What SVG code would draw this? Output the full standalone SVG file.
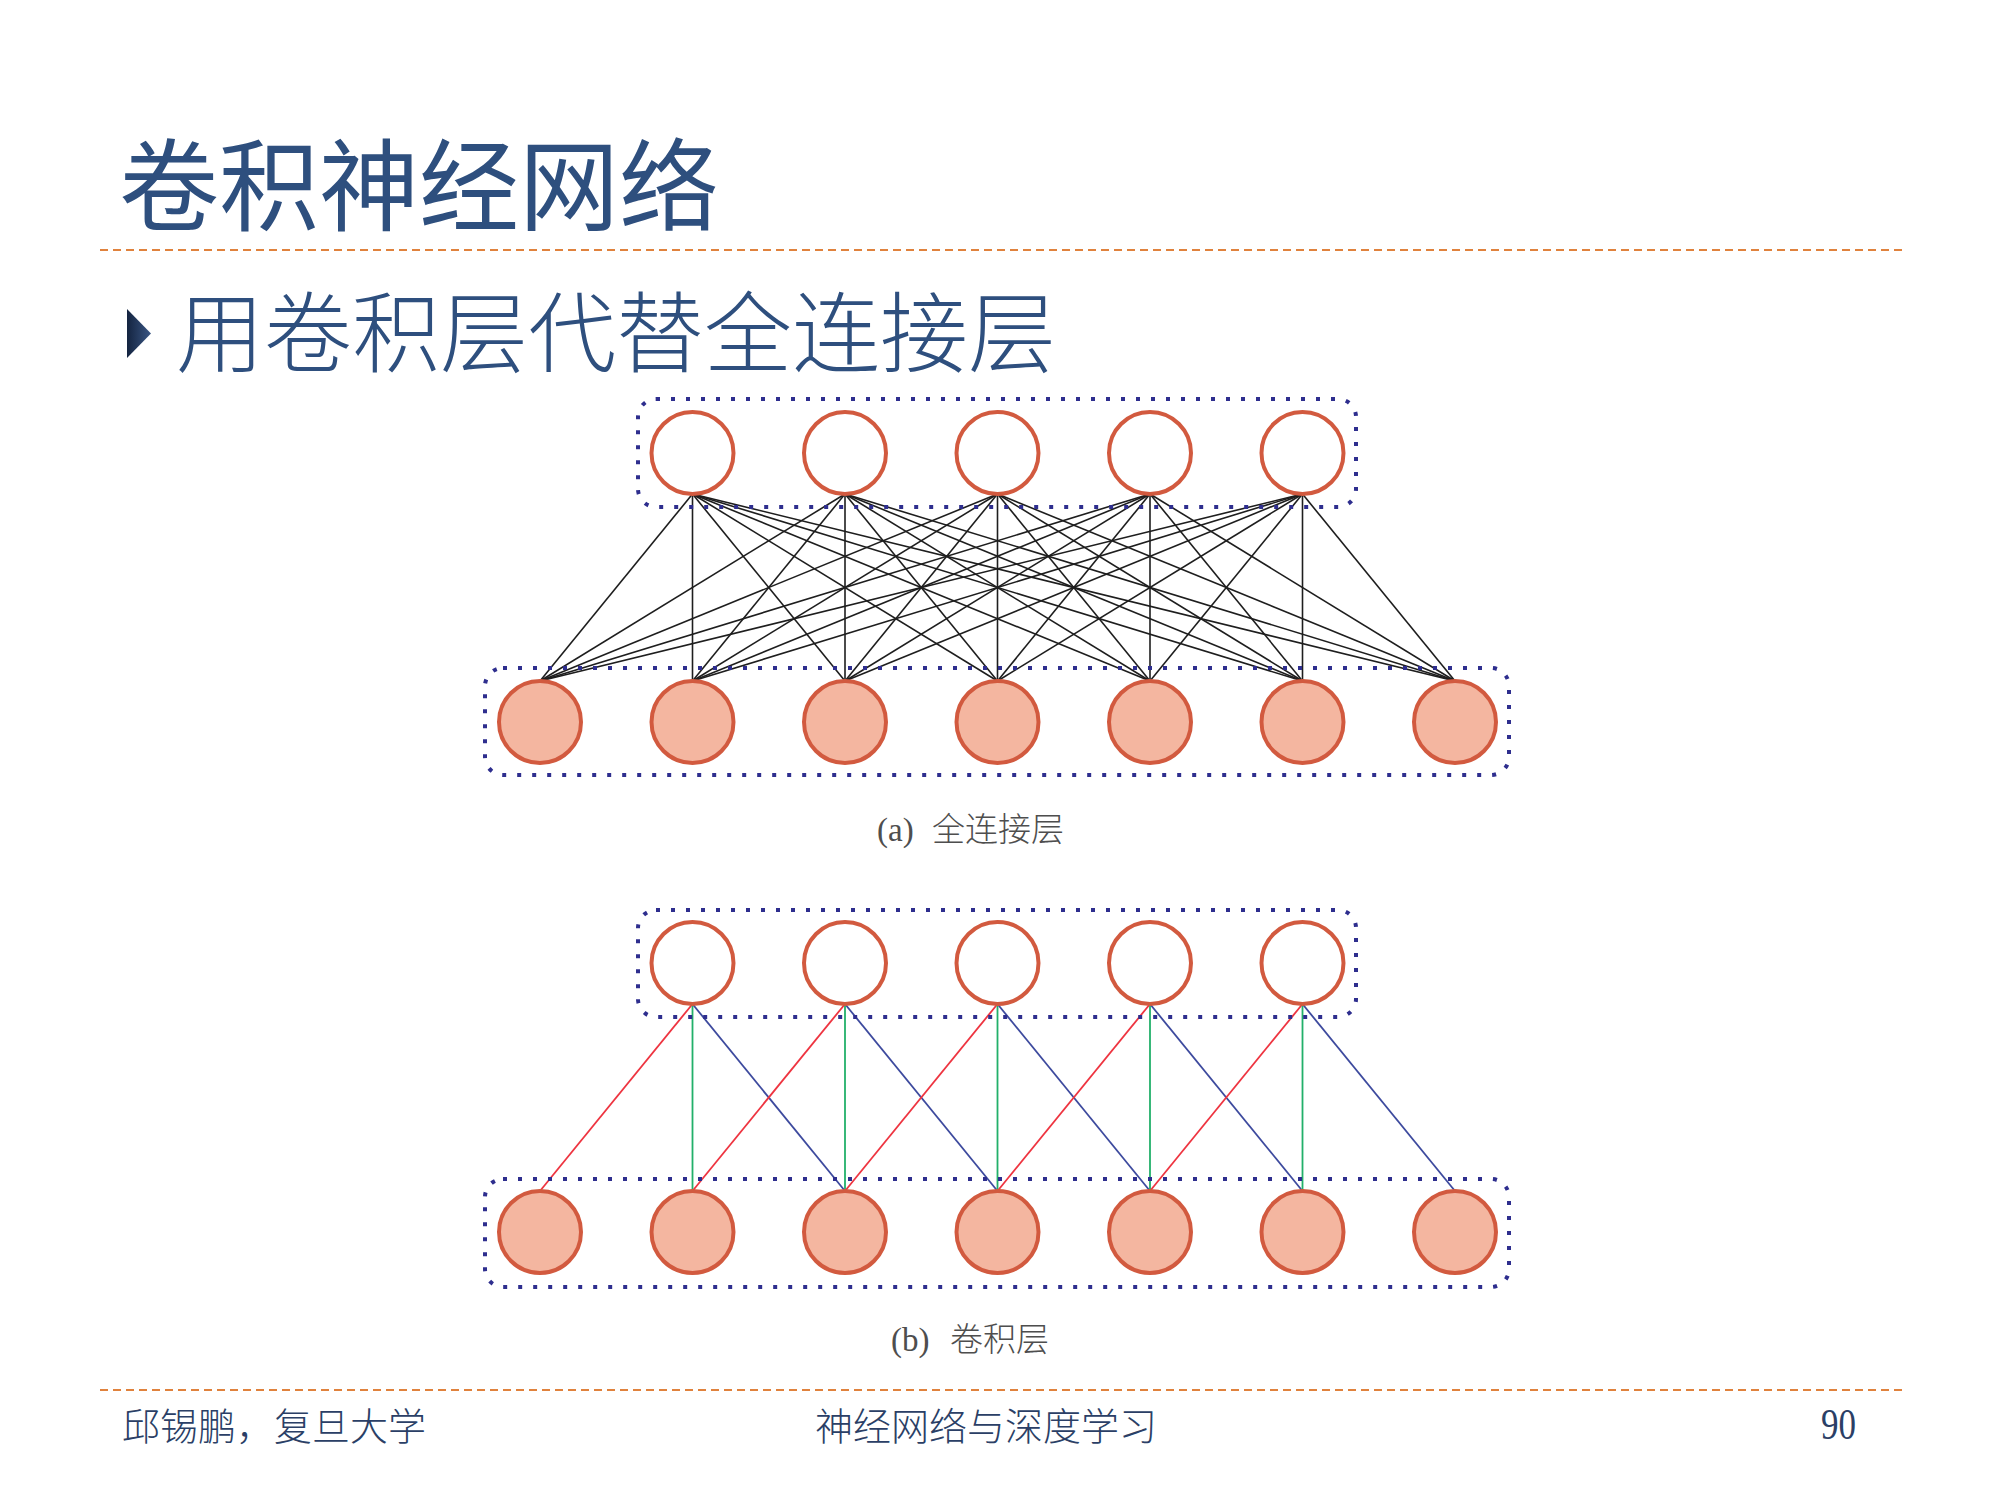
<svg xmlns="http://www.w3.org/2000/svg" width="2000" height="1500" viewBox="0 0 2000 1500">
<defs>
<linearGradient id="tri" x1="0" y1="0" x2="1" y2="0">
<stop offset="0" stop-color="#142440"/>
<stop offset="1" stop-color="#3A5684"/>
</linearGradient>
</defs>
<style>
.sep{stroke:#E0823D;stroke-width:2;stroke-dasharray:8 5;fill:none}
.box{fill:none;stroke:#2E2E8E;stroke-width:4;stroke-dasharray:4 11}
.in{fill:#FFFFFF;stroke:#D25A3F;stroke-width:4}
.out{fill:#F4B6A0;stroke:#D25A3F;stroke-width:4}
.fc line{stroke:#1E1E1E;stroke-width:1.6}
.r{stroke:#EE3440;stroke-width:1.8}
.g{stroke:#22B06A;stroke-width:1.8}
.b{stroke:#3D4A9E;stroke-width:1.8}
.cjk{font-family:"Noto Sans CJK SC",sans-serif}
.cap{font-family:"Liberation Serif","Noto Sans CJK SC",serif;fill:#4E4E4E;font-size:33px}
.capc{font-family:"Noto Sans CJK SC",sans-serif;font-weight:300}
.foot{font-family:"Noto Sans CJK SC",sans-serif;fill:#2B3F66;font-size:38px;font-weight:300}
</style>
<rect width="2000" height="1500" fill="#FFFFFF"/>
<g id="title">
<text x="119" y="223" class="cjk" font-size="100" fill="#2E4F7E">卷积神经网络</text>
</g>
<line class="sep" x1="100" y1="250" x2="1902" y2="250"/>
<g id="bullet">
<polygon points="127,309 151,333.5 127,358" fill="url(#tri)"/>
<text x="176" y="365" class="cjk" font-size="88" font-weight="300" fill="#2E4F7E">用卷积层代替全连接层</text>
</g>
<!-- (a) fully connected -->
<g id="fc-edges" class="fc">
<line x1="692.5" y1="494" x2="540" y2="681"/><line x1="692.5" y1="494" x2="692.5" y2="681"/><line x1="692.5" y1="494" x2="845" y2="681"/><line x1="692.5" y1="494" x2="997.5" y2="681"/><line x1="692.5" y1="494" x2="1150" y2="681"/><line x1="692.5" y1="494" x2="1302.5" y2="681"/><line x1="692.5" y1="494" x2="1455" y2="681"/>
<line x1="845" y1="494" x2="540" y2="681"/><line x1="845" y1="494" x2="692.5" y2="681"/><line x1="845" y1="494" x2="845" y2="681"/><line x1="845" y1="494" x2="997.5" y2="681"/><line x1="845" y1="494" x2="1150" y2="681"/><line x1="845" y1="494" x2="1302.5" y2="681"/><line x1="845" y1="494" x2="1455" y2="681"/>
<line x1="997.5" y1="494" x2="540" y2="681"/><line x1="997.5" y1="494" x2="692.5" y2="681"/><line x1="997.5" y1="494" x2="845" y2="681"/><line x1="997.5" y1="494" x2="997.5" y2="681"/><line x1="997.5" y1="494" x2="1150" y2="681"/><line x1="997.5" y1="494" x2="1302.5" y2="681"/><line x1="997.5" y1="494" x2="1455" y2="681"/>
<line x1="1150" y1="494" x2="540" y2="681"/><line x1="1150" y1="494" x2="692.5" y2="681"/><line x1="1150" y1="494" x2="845" y2="681"/><line x1="1150" y1="494" x2="997.5" y2="681"/><line x1="1150" y1="494" x2="1150" y2="681"/><line x1="1150" y1="494" x2="1302.5" y2="681"/><line x1="1150" y1="494" x2="1455" y2="681"/>
<line x1="1302.5" y1="494" x2="540" y2="681"/><line x1="1302.5" y1="494" x2="692.5" y2="681"/><line x1="1302.5" y1="494" x2="845" y2="681"/><line x1="1302.5" y1="494" x2="997.5" y2="681"/><line x1="1302.5" y1="494" x2="1150" y2="681"/><line x1="1302.5" y1="494" x2="1302.5" y2="681"/><line x1="1302.5" y1="494" x2="1455" y2="681"/>
</g>
<g id="fc-top-layer">
<rect class="box" x="638" y="399" width="718" height="108" rx="18"/>
<circle class="in" cx="692.5" cy="453" r="41"/>
<circle class="in" cx="845" cy="453" r="41"/>
<circle class="in" cx="997.5" cy="453" r="41"/>
<circle class="in" cx="1150" cy="453" r="41"/>
<circle class="in" cx="1302.5" cy="453" r="41"/>
</g>
<g id="fc-bottom-layer">
<rect class="box" x="485" y="668" width="1024" height="107" rx="18"/>
<circle class="out" cx="540" cy="722" r="41"/>
<circle class="out" cx="692.5" cy="722" r="41"/>
<circle class="out" cx="845" cy="722" r="41"/>
<circle class="out" cx="997.5" cy="722" r="41"/>
<circle class="out" cx="1150" cy="722" r="41"/>
<circle class="out" cx="1302.5" cy="722" r="41"/>
<circle class="out" cx="1455" cy="722" r="41"/>
</g>
<g id="caption-a">
<text x="877" y="841" class="cap">(a) <tspan x="932" class="capc">全连接层</tspan></text>
</g>
<!-- (b) convolution -->
<g id="conv-edges">
<line class="r" x1="692.5" y1="1004" x2="540" y2="1191"/><line class="g" x1="692.5" y1="1004" x2="692.5" y2="1191"/><line class="b" x1="692.5" y1="1004" x2="845" y2="1191"/>
<line class="r" x1="845" y1="1004" x2="692.5" y2="1191"/><line class="g" x1="845" y1="1004" x2="845" y2="1191"/><line class="b" x1="845" y1="1004" x2="997.5" y2="1191"/>
<line class="r" x1="997.5" y1="1004" x2="845" y2="1191"/><line class="g" x1="997.5" y1="1004" x2="997.5" y2="1191"/><line class="b" x1="997.5" y1="1004" x2="1150" y2="1191"/>
<line class="r" x1="1150" y1="1004" x2="997.5" y2="1191"/><line class="g" x1="1150" y1="1004" x2="1150" y2="1191"/><line class="b" x1="1150" y1="1004" x2="1302.5" y2="1191"/>
<line class="r" x1="1302.5" y1="1004" x2="1150" y2="1191"/><line class="g" x1="1302.5" y1="1004" x2="1302.5" y2="1191"/><line class="b" x1="1302.5" y1="1004" x2="1455" y2="1191"/>
</g>
<g id="conv-top-layer">
<rect class="box" x="638" y="910" width="718" height="107" rx="18"/>
<circle class="in" cx="692.5" cy="963" r="41"/>
<circle class="in" cx="845" cy="963" r="41"/>
<circle class="in" cx="997.5" cy="963" r="41"/>
<circle class="in" cx="1150" cy="963" r="41"/>
<circle class="in" cx="1302.5" cy="963" r="41"/>
</g>
<g id="conv-bottom-layer">
<rect class="box" x="485" y="1179" width="1024" height="108" rx="18"/>
<circle class="out" cx="540" cy="1232" r="41"/>
<circle class="out" cx="692.5" cy="1232" r="41"/>
<circle class="out" cx="845" cy="1232" r="41"/>
<circle class="out" cx="997.5" cy="1232" r="41"/>
<circle class="out" cx="1150" cy="1232" r="41"/>
<circle class="out" cx="1302.5" cy="1232" r="41"/>
<circle class="out" cx="1455" cy="1232" r="41"/>
</g>
<g id="caption-b">
<text x="891" y="1351" class="cap">(b) <tspan x="950" class="capc">卷积层</tspan></text>
</g>
<line class="sep" x1="100" y1="1390" x2="1902" y2="1390"/>
<g id="footer">
<text x="122" y="1440" class="foot">邱锡鹏，复旦大学</text>
<text x="815" y="1440" class="foot">神经网络与深度学习</text>
<text x="1821" y="1439" font-family="Liberation Serif,serif" font-size="44" fill="#2B3F66" textLength="35" lengthAdjust="spacingAndGlyphs">90</text>
</g>
</svg>
